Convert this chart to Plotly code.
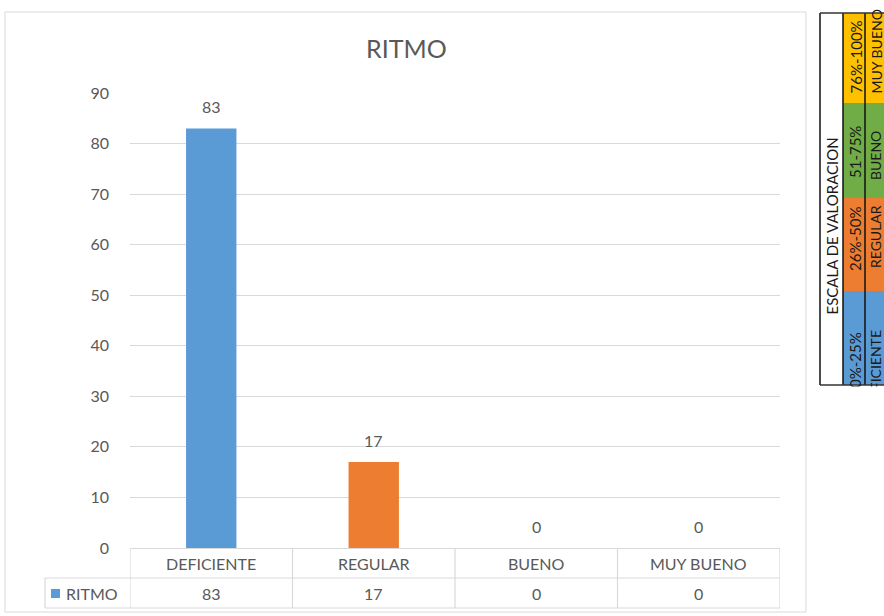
import plotly.graph_objects as go

# ---------------- data ----------------
categories = ["DEFICIENTE", "REGULAR", "BUENO", "MUY BUENO"]
values = [83, 17, 0, 0]
series_name = "RITMO"
y_ticks = [0, 10, 20, 30, 40, 50, 60, 70, 80, 90]

scale_title = "ESCALA DE VALORACION"
scale_labels = ["DEFICIENTE", "REGULAR", "BUENO", "MUY BUENO"]
scale_ranges = ["0%-25%", "26%-50%", "51-75%", "76%-100%"]

# ---------------- styles ----------------
W, H = 884, 616
PL, PR, PT, PB = 130, 780, 93, 548   # plot area in page px
FONT = "Lato, Open Sans, sans-serif"
GREY_TXT = "#595959"
GRID = "#D9D9D9"
bar_colors = ["#5B9BD5", "#ED7D31", "#5B9BD5", "#5B9BD5"]
scale_colors = ["#5B9BD5", "#ED7D31", "#70AD47", "#FFC000"]


def px_x(px):
    return (px - PL) / (PR - PL)


def px_y(py):
    return (PB - py) / (PB - PT)


def txt(size, color=GREY_TXT):
    return dict(family=FONT, size=size, color=color)


fig = go.Figure()
fig.add_trace(go.Bar(
    x=categories, y=values, name=series_name,
    marker=dict(color=bar_colors, line=dict(width=0)),
    width=0.31, showlegend=False, hoverinfo="x+y",
))

shapes = []
annotations = []

# bar value labels
for c, v in zip(categories, values):
    annotations.append(dict(x=c, y=v, xref="x", yref="y", text=str(v),
                            showarrow=False, xanchor="center", yanchor="bottom",
                            yshift=10, font=txt(16)))

# chart outer border
shapes.append(dict(type="rect", xref="paper", yref="paper",
                   x0=px_x(5), x1=px_x(806), y0=px_y(612), y1=px_y(12),
                   line=dict(color=GRID, width=1), layer="below"))

# data table below the plot
row1, row2 = 578, 608
for yy in [row1, row2]:
    shapes.append(dict(type="line", xref="paper", yref="paper",
                       x0=px_x(45), x1=1, y0=px_y(yy), y1=px_y(yy),
                       line=dict(color=GRID, width=1.2)))
for i in range(len(categories) + 1):
    shapes.append(dict(type="line", xref="x", yref="paper",
                       x0=i - 0.5, x1=i - 0.5, y0=px_y(PB), y1=px_y(row2),
                       line=dict(color=GRID, width=1.2)))
shapes.append(dict(type="line", xref="paper", yref="paper",
                   x0=px_x(45), x1=px_x(45), y0=px_y(row1), y1=px_y(row2),
                   line=dict(color=GRID, width=1.2)))
# legend key
shapes.append(dict(type="rect", xref="paper", yref="paper",
                   x0=px_x(51), x1=px_x(60), y0=px_y(598), y1=px_y(589),
                   fillcolor="#5B9BD5", line=dict(width=0)))
annotations.append(dict(x=px_x(64), y=px_y(593), xref="paper", yref="paper",
                        text=series_name, showarrow=False, xanchor="left",
                        yanchor="middle", font=txt(16)))
for c in categories:
    annotations.append(dict(x=c, y=px_y(563), xref="x", yref="paper", text=c,
                            showarrow=False, xanchor="center", yanchor="middle",
                            font=txt(16)))
for c, v in zip(categories, values):
    annotations.append(dict(x=c, y=px_y(593), xref="x", yref="paper", text=str(v),
                            showarrow=False, xanchor="center", yanchor="middle",
                            font=txt(16)))

# title
annotations.append(dict(x=px_x(406), y=px_y(48), xref="paper", yref="paper",
                        text="RITMO", showarrow=False, xanchor="center",
                        yanchor="middle", font=txt(25)))

# ---------------- scale table on the right ----------------
TX0, TC1, TC2, TX1 = 820, 843, 865, 888
TY0, TY1 = 13, 385
row_bounds = [(291, 385), (198, 291), (103, 198), (13, 103)]  # blue, orange, green, yellow
bottoms_col2 = [389, 272, 179, 95]
bottoms_col3 = [410, 269, 181, 95]
for (y0, y1), col in zip(row_bounds, scale_colors):
    shapes.append(dict(type="rect", xref="paper", yref="paper",
                       x0=px_x(TC1), x1=px_x(TX1), y0=px_y(y1), y1=px_y(y0),
                       fillcolor=col, line=dict(width=0)))
for rng, lab, b2, b3 in zip(scale_ranges, scale_labels, bottoms_col2, bottoms_col3):
    annotations.append(dict(x=px_x((TC1 + TC2) / 2 + 1), y=px_y(b2), xref="paper", yref="paper",
                            text=rng, textangle=-90, showarrow=False,
                            xanchor="center", yanchor="bottom",
                            borderpad=0, font=txt(15, "#1a1a1a")))
    annotations.append(dict(x=px_x((TC2 + TX1) / 2 - 1), y=px_y(b3), xref="paper", yref="paper",
                            text=lab, textangle=-90, showarrow=False,
                            xanchor="center", yanchor="bottom",
                            borderpad=0, font=txt(14, "#1a1a1a")))
annotations.append(dict(x=px_x((TX0 + TC1) / 2), y=px_y(226), xref="paper", yref="paper",
                        text=scale_title, textangle=-90, showarrow=False,
                        xanchor="center", yanchor="middle",
                        font=txt(15, "#1a1a1a")))
# white cover to clip overflowing text below the table
annotations.append(dict(x=px_x(852), y=px_y(386.5), xref="paper", yref="paper",
                        text=" ", showarrow=False, xanchor="center", yanchor="top",
                        width=80, height=60, bgcolor="white", borderpad=0))
# table borders (black)
for xx in [TX0, TC1, TC2]:
    shapes.append(dict(type="line", xref="paper", yref="paper",
                       x0=px_x(xx), x1=px_x(xx), y0=px_y(TY1), y1=px_y(TY0),
                       line=dict(color="#111111", width=1.5)))
for yy in [TY0, TY1]:
    shapes.append(dict(type="line", xref="paper", yref="paper",
                       x0=px_x(TX0), x1=px_x(TX1), y0=px_y(yy), y1=px_y(yy),
                       line=dict(color="#333333", width=1.5)))

fig.update_layout(
    width=W, height=H,
    margin=dict(l=PL, r=W - PR, t=PT, b=H - PB, pad=0),
    paper_bgcolor="white", plot_bgcolor="white",
    font=dict(family=FONT, color=GREY_TXT),
    shapes=shapes, annotations=annotations,
    xaxis=dict(showticklabels=False, showgrid=False, zeroline=False,
               showline=False, ticks="", range=[-0.5, 3.5], fixedrange=True),
    yaxis=dict(range=[0, 90], tickvals=y_ticks, showgrid=True, gridcolor=GRID,
               gridwidth=1.2, zeroline=True, zerolinecolor=GRID, zerolinewidth=1.2,
               showline=False, ticks="", ticklabelstandoff=20,
               tickfont=txt(16), fixedrange=True),
)

fig.write_html(
    "out.html",
    config={"displayModeBar": False},
    post_script="document.body.style.margin='0px';document.body.style.overflow='hidden';",
)
